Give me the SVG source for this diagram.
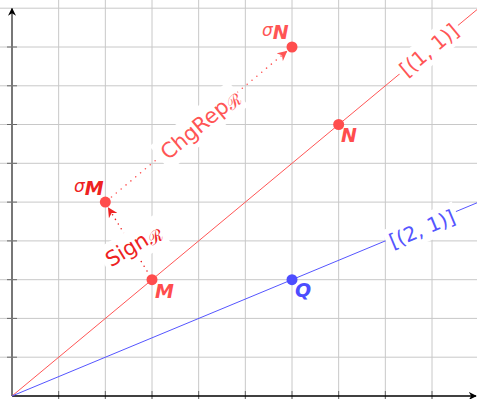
<svg xmlns="http://www.w3.org/2000/svg" width="477" height="399" viewBox="0 0 477 399">
<style>
.grid line{stroke:#c8c8c8;stroke-width:1}
.lbl{font-family:"DejaVu Sans",sans-serif}
.scr{font-family:"DejaVu Serif","Liberation Serif",serif}
.pt{font-family:"DejaVu Sans",sans-serif;font-style:italic;font-weight:bold;font-size:19px}
.box{fill:#fff}
</style>
<defs>
<marker id="ahr" viewBox="0 0 10 10" refX="9" refY="5" markerWidth="10" markerHeight="10" markerUnits="userSpaceOnUse" orient="auto">
<path d="M0,0 L10,5 L0,10 L3,5 z" fill="#ee2222"/>
</marker>
<marker id="ahl" viewBox="0 0 10 10" refX="9" refY="5" markerWidth="10" markerHeight="10" markerUnits="userSpaceOnUse" orient="auto">
<path d="M0,0 L10,5 L0,10 L3,5 z" fill="#ff5555"/>
</marker>
<marker id="ahk" viewBox="0 0 10 10" refX="9" refY="5" markerWidth="8" markerHeight="8" markerUnits="userSpaceOnUse" orient="auto">
<path d="M0,0 L10,5 L0,10 L3,5 z" fill="#000"/>
</marker>
</defs>
<rect width="477" height="399" fill="#fff"/>
<g id="grid" class="grid">
<line x1="58.67" y1="0" x2="58.67" y2="399"/>
<line x1="105.33" y1="0" x2="105.33" y2="399"/>
<line x1="152" y1="0" x2="152" y2="399"/>
<line x1="198.67" y1="0" x2="198.67" y2="399"/>
<line x1="245.33" y1="0" x2="245.33" y2="399"/>
<line x1="292" y1="0" x2="292" y2="399"/>
<line x1="338.67" y1="0" x2="338.67" y2="399"/>
<line x1="385.33" y1="0" x2="385.33" y2="399"/>
<line x1="432" y1="0" x2="432" y2="399"/>
<line x1="0" y1="357.2" x2="477" y2="357.2"/>
<line x1="0" y1="318.4" x2="477" y2="318.4"/>
<line x1="0" y1="279.7" x2="477" y2="279.7"/>
<line x1="0" y1="240.9" x2="477" y2="240.9"/>
<line x1="0" y1="202.1" x2="477" y2="202.1"/>
<line x1="0" y1="163.3" x2="477" y2="163.3"/>
<line x1="0" y1="124.5" x2="477" y2="124.5"/>
<line x1="0" y1="85.8" x2="477" y2="85.8"/>
<line x1="0" y1="47" x2="477" y2="47"/>
<line x1="0" y1="8.2" x2="477" y2="8.2"/>
</g>
<g id="axes">
<g stroke="#666" stroke-width="1">
<line x1="7" y1="357.2" x2="17" y2="357.2"/>
<line x1="7" y1="318.4" x2="17" y2="318.4"/>
<line x1="7" y1="279.7" x2="17" y2="279.7"/>
<line x1="7" y1="240.9" x2="17" y2="240.9"/>
<line x1="7" y1="202.1" x2="17" y2="202.1"/>
<line x1="7" y1="163.3" x2="17" y2="163.3"/>
<line x1="7" y1="124.5" x2="17" y2="124.5"/>
<line x1="7" y1="85.8" x2="17" y2="85.8"/>
<line x1="7" y1="47" x2="17" y2="47"/>
<line x1="58.67" y1="391" x2="58.67" y2="399"/>
<line x1="105.33" y1="391" x2="105.33" y2="399"/>
<line x1="152" y1="391" x2="152" y2="399"/>
<line x1="198.67" y1="391" x2="198.67" y2="399"/>
<line x1="245.33" y1="391" x2="245.33" y2="399"/>
<line x1="292" y1="391" x2="292" y2="399"/>
<line x1="338.67" y1="391" x2="338.67" y2="399"/>
<line x1="385.33" y1="391" x2="385.33" y2="399"/>
<line x1="432" y1="391" x2="432" y2="399"/>
</g>
<line x1="12" y1="396" x2="12" y2="8.5" stroke="#777" stroke-width="2" marker-end="url(#ahk)"/>
<line x1="12" y1="396" x2="476" y2="396" stroke="#000" stroke-width="1.5" marker-end="url(#ahk)"/>
</g>
<g id="connectors">
<line x1="12" y1="396" x2="477" y2="9.6" stroke="#ff5555" stroke-width="1"/>
<line x1="12" y1="396" x2="477" y2="202.8" stroke="#5555ff" stroke-width="1"/>
<line x1="147" y1="271" x2="108.5" y2="208" stroke="#ee2222" stroke-width="1.6" stroke-linecap="round" stroke-dasharray="0 5.5" marker-end="url(#ahr)"/>
<line x1="111.5" y1="197" x2="286.6" y2="51.5" stroke="#ff5555" stroke-width="1.6" stroke-linecap="round" stroke-dasharray="0 6.3" marker-end="url(#ahl)"/>
</g>
<g id="label-11" transform="translate(429,50) rotate(-39.7)">
<rect class="box" x="-38" y="-14" width="76" height="28"/>
<text class="lbl" x="0" y="7" font-size="20" fill="#ff5555" text-anchor="middle">[(1, 1)]</text>
</g>
<g id="label-21" transform="translate(422,229) rotate(-22.6)">
<rect class="box" x="-38" y="-14" width="76" height="28"/>
<text class="lbl" x="0" y="7" font-size="20" fill="#5555ff" text-anchor="middle">[(2, 1)]</text>
</g>
<g id="label-chgrep" transform="translate(199,126) rotate(-39.7)">
<rect class="box" x="-51" y="-16" width="102" height="32"/>
<text class="lbl" x="-46" y="7" font-size="21" fill="#ff5555">ChgRep<tspan class="scr" font-size="17" dy="3">ℛ</tspan></text>
</g>
<g id="label-sign" transform="translate(133,246) rotate(-31)">
<rect class="box" x="-34" y="-16" width="68" height="32"/>
<text class="lbl" x="-30" y="7" font-size="21" fill="#ee2222">Sign<tspan class="scr" font-size="17" dy="3">ℛ</tspan></text>
</g>
<g id="node-M">
<circle cx="152" cy="279.7" r="5.5" fill="#ff4d4d"/>
<text class="pt" x="155" y="298" fill="#ff4d4d">M</text>
</g>
<g id="node-N">
<circle cx="338.67" cy="124.5" r="5.5" fill="#ff4d4d"/>
<text class="pt" x="341" y="142" fill="#ff4d4d">N</text>
</g>
<g id="node-Q">
<circle cx="292" cy="279.7" r="5.5" fill="#4d4dff"/>
<text class="pt" x="295" y="297" fill="#4d4dff">Q</text>
</g>
<g id="node-sigmaM">
<circle cx="105.33" cy="202.1" r="5.5" fill="#ff4d4d"/>
<text class="lbl" x="74" y="192" font-size="17" font-style="italic" fill="#ee2222">σ<tspan class="pt" font-size="12" dy="3">M</tspan></text>
</g>
<g id="node-sigmaN">
<circle cx="292" cy="47" r="5.5" fill="#ff4d4d"/>
<text class="lbl" x="262" y="36" font-size="17" font-style="italic" fill="#ff5555">σ<tspan class="pt" font-size="12" dy="3">N</tspan></text>
</g>
</svg>
